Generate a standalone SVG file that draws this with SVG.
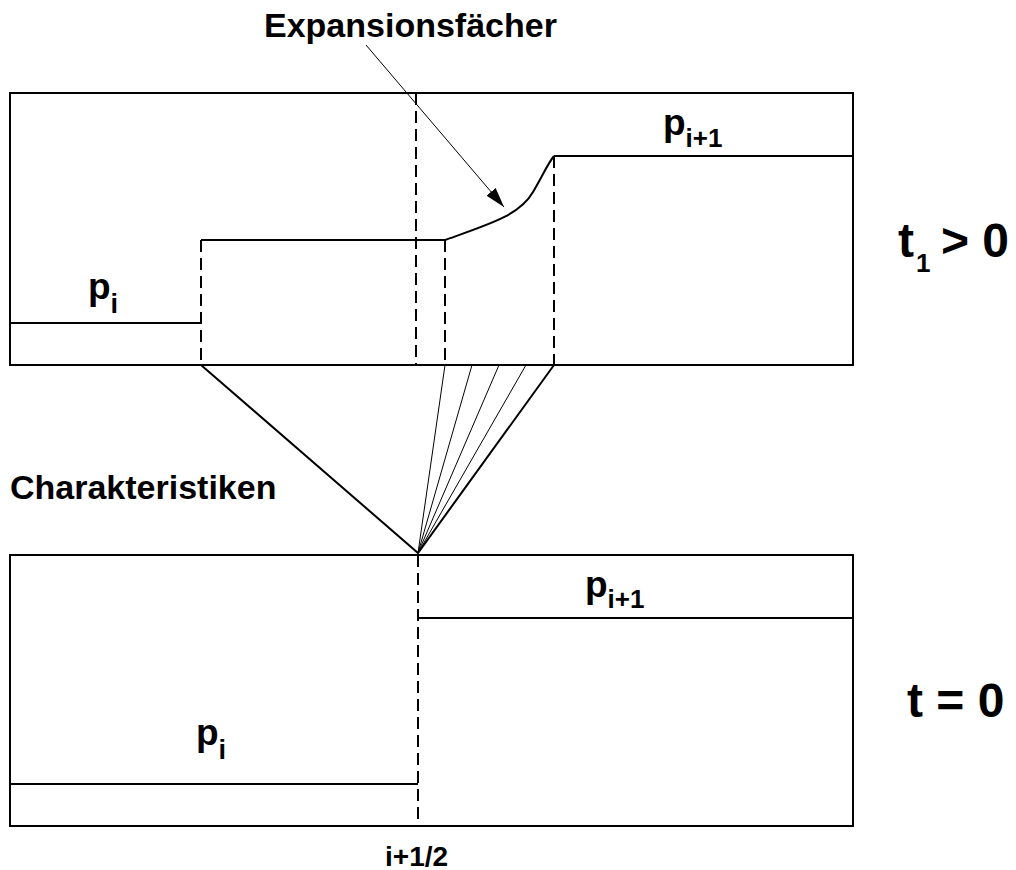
<svg xmlns="http://www.w3.org/2000/svg" width="1016" height="870" viewBox="0 0 1016 870">
<defs>
<style>
.box{fill:none;stroke:#000;stroke-width:2}
.ln{fill:none;stroke:#000;stroke-width:2}
.dash{fill:none;stroke:#000;stroke-width:2;stroke-dasharray:12 6}
.thin{fill:none;stroke:#000;stroke-width:1}
.t{font-family:"Liberation Sans",Arial,sans-serif;font-weight:bold;fill:#000}
</style>
<marker id="ah" viewBox="0 0 20 12" refX="20" refY="6" markerWidth="20" markerHeight="12" markerUnits="userSpaceOnUse" orient="auto">
<path d="M0,0 L20,6 L0,12 z" fill="#000"/>
</marker>
</defs>
<rect width="1016" height="870" fill="#fff"/>
<g id="top-state">
<rect class="box" x="10" y="93" width="843" height="272"/>
<path class="ln" d="M10,323 H201 M201,240 H445 M554,156 H853"/>
<path class="ln" d="M445,240 C490,224 520,215 533,192 C542,177 548,163 554,156"/>
<path class="dash" d="M201,240 V365 M416,93 V365 M445,240 V365 M554,156 V365"/>
<text class="t" x="88" y="299" font-size="37">p<tspan font-size="27" dy="14">i</tspan></text>
<text class="t" x="663" y="135" font-size="37">p<tspan font-size="26" dy="12">i+1</tspan></text>
</g>
<g id="bottom-state">
<rect class="box" x="10" y="555" width="843" height="271"/>
<path class="ln" d="M10,784 H418 M418,618 H853"/>
<path class="dash" d="M418,555 V826"/>
<text class="t" x="196" y="745" font-size="37">p<tspan font-size="27" dy="14">i</tspan></text>
<text class="t" x="585" y="597" font-size="37">p<tspan font-size="26" dy="11">i+1</tspan></text>
</g>
<g id="connectors">
<path class="ln" d="M201,365 L418,553 L554,365"/>
<path class="thin" d="M445,365 L418,553 M472,365 L418,553 M499,365 L418,553 M526,365 L418,553"/>
<path class="thin" d="M366,45 L504,207" marker-end="url(#ah)"/>
</g>
<g id="labels">
<text class="t" x="264" y="37" font-size="34">Expansionsfächer</text>
<text class="t" x="10" y="499" font-size="34">Charakteristiken</text>
<text class="t" x="898" y="257" font-size="48">t<tspan x="916" y="272" font-size="26">1</tspan><tspan x="941" y="257">&gt; 0</tspan></text>
<text class="t" x="907" y="717" font-size="48">t = 0</text>
<text class="t" x="385" y="866" font-size="28">i+1/2</text>
</g>
</svg>
